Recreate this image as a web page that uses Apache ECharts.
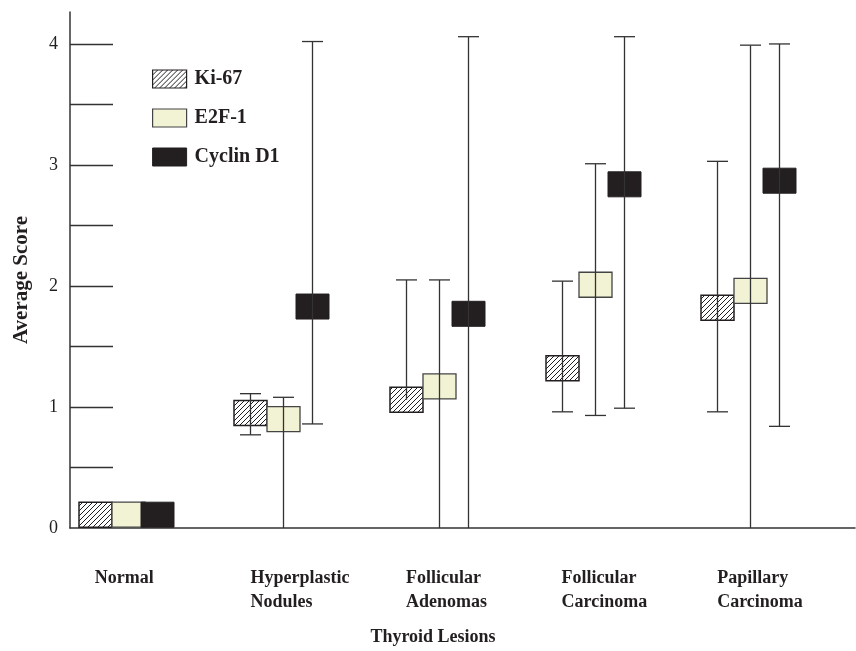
<!DOCTYPE html>
<html>
<head>
<meta charset="utf-8">
<script src="https://cdn.jsdelivr.net/npm/echarts@6/dist/echarts.min.js"></script>
<style>html,body{margin:0;padding:0;background:#fff}#c{width:856px;height:651px}</style>
</head>
<body>
<div id="c"></div>
<script>
const categories = ['Normal', 'Hyperplastic\nNodules', 'Follicular\nAdenomas', 'Follicular\nCarcinoma', 'Papillary\nCarcinoma'];
const yTickLabels = [0, 1, 2, 3, 4];
const yMinorTicks = [0.5, 1, 1.5, 2, 2.5, 3, 3.5, 4];

const ki67Mean = [0.11, 0.95, 1.06, 1.32, 1.82];
const ki67Low  = [null, 0.77, null, 0.96, 0.96];
const ki67High = [null, 1.11, 2.05, 2.04, 3.03];

const e2f1Mean = [0.11, 0.90, 1.17, 2.01, 1.96];
const e2f1Low  = [null, 0, 0, 0.93, 0];
const e2f1High = [null, 1.08, 2.05, 3.01, 3.99];

const cycMean = [0.11, 1.83, 1.77, 2.84, 2.87];
const cycLow  = [null, 0.86, 0, 0.99, 0.84];
const cycHigh = [null, 4.02, 4.06, 4.06, 4.00];

const INK = '#231f20';
const FONT = 'Liberation Serif';

// hatch pattern
const pc = document.createElement('canvas');
pc.width = 5; pc.height = 5;
const g = pc.getContext('2d');
g.fillStyle = '#fff'; g.fillRect(0, 0, 5, 5);
g.strokeStyle = INK; g.lineWidth = 1;
g.beginPath();
g.moveTo(-1, 6); g.lineTo(6, -1);
g.moveTo(-1, 1); g.lineTo(1, -1);
g.moveTo(4, 6); g.lineTo(6, 4);
g.stroke();
const hatch = { image: pc, repeat: 'repeat' };

const yMax = 4.264;

function build(mean, low, high) {
  return mean.map((m, i) => [i, m, low[i], high[i]]);
}

function makeRender(offset, fill, stroke, lw) {
  return function (params, api) {
    const cat = api.value(0);
    const m = api.value(1);
    const lo = api.value(2);
    const hi = api.value(3);
    const c = api.coord([cat, m]);
    const x = Math.round(c[0] + offset) + 0.5;
    const children = [];
    const bw = 33, bh = 25, cw = 21;
    children.push({
      type: 'rect',
      shape: { x: x - bw / 2, y: c[1] - bh / 2, width: bw, height: bh },
      style: { fill: fill, stroke: stroke, lineWidth: lw }
    });
    const lineStyle = { stroke: '#333', lineWidth: 1.3 };
    const hasHi = hi != null && !isNaN(hi);
    const hasLo = lo != null && !isNaN(lo);
    if (hasHi || hasLo) {
      const yTop = hasHi ? api.coord([cat, hi])[1] : c[1];
      const yBot = hasLo ? api.coord([cat, lo])[1] : c[1];
      children.push({ type: 'line', shape: { x1: x, y1: yTop, x2: x, y2: yBot }, style: lineStyle });
      if (hasHi) children.push({ type: 'line', shape: { x1: x - cw / 2, y1: yTop, x2: x + cw / 2, y2: yTop }, style: lineStyle });
      if (hasLo && lo > 0) children.push({ type: 'line', shape: { x1: x - cw / 2, y1: yBot, x2: x + cw / 2, y2: yBot }, style: lineStyle });
    }
    return { type: 'group', children: children };
  };
}

const chart = echarts.init(document.getElementById('c'), null, { renderer: 'canvas' });
chart.setOption({
  backgroundColor: '#fff',
  animation: false,
  grid: [
    { left: 70, right: 1, top: 12, bottom: 123, outerBoundsMode: 'none', containLabel: false },
    { left: 17, right: 61, top: 12, bottom: 123, outerBoundsMode: 'none', containLabel: false }
  ],
  xAxis: [
    { gridIndex: 0, type: 'value', min: 0, max: 1,
      axisLine: { show: true, lineStyle: { color: '#333', width: 1.5 } },
      axisTick: { show: false }, axisLabel: { show: false }, splitLine: { show: false } },
    { gridIndex: 1, type: 'category', data: categories, boundaryGap: true,
      axisLine: { show: false }, axisTick: { show: false }, splitLine: { show: false },
      axisLabel: { align: 'left', margin: 38, fontFamily: FONT, fontWeight: 'bold', fontSize: 18,
                   color: INK, lineHeight: 24, interval: 0 } }
  ],
  yAxis: [
    { gridIndex: 0, type: 'value', min: 0, max: yMax, interval: 0.5,
      axisLine: { show: true, lineStyle: { color: '#333', width: 1.5 } },
      axisTick: { show: true, inside: true, length: 43, customValues: yMinorTicks,
                  lineStyle: { color: '#333', width: 1.3 } },
      axisLabel: { customValues: yTickLabels, margin: 12, fontFamily: FONT, fontSize: 18, color: INK },
      splitLine: { show: false } },
    { gridIndex: 1, type: 'value', min: 0, max: yMax, show: false }
  ],
  legend: {
    orient: 'vertical', left: 152, top: 69, itemWidth: 34, itemHeight: 18, itemGap: 19,
    padding: 0, icon: 'rect',
    textStyle: { fontFamily: FONT, fontWeight: 'bold', fontSize: 20, color: INK, padding: [0, 0, 0, 3] },
    data: [
      { name: 'Ki-67', itemStyle: { color: hatch, borderColor: INK, borderWidth: 1.2 } },
      { name: 'E2F-1', itemStyle: { color: '#f2f2d4', borderColor: '#444', borderWidth: 1.2 } },
      { name: 'Cyclin D1', itemStyle: { color: INK, borderColor: INK, borderWidth: 1 } }
    ]
  },
  graphic: [
    { type: 'text', x: 433, y: 637,
      style: { text: 'Thyroid Lesions', textAlign: 'center', textVerticalAlign: 'middle',
               fontFamily: FONT, fontWeight: 'bold', fontSize: 18, fill: INK } },
    { type: 'text', x: 22, y: 280, rotation: Math.PI / 2,
      style: { text: 'Average Score', textAlign: 'center', textVerticalAlign: 'middle',
               fontFamily: FONT, fontWeight: 'bold', fontSize: 21, fill: INK } }
  ],
  series: [
    { name: 'Ki-67', type: 'custom', xAxisIndex: 1, yAxisIndex: 1,
      itemStyle: { color: hatch }, data: build(ki67Mean, ki67Low, ki67High),
      renderItem: makeRender(0, hatch, INK, 1.5), clip: false },
    { name: 'E2F-1', type: 'custom', xAxisIndex: 1, yAxisIndex: 1,
      itemStyle: { color: '#f2f2d4' }, data: build(e2f1Mean, e2f1Low, e2f1High),
      renderItem: makeRender(33, '#f2f2d4', '#444', 1.3), clip: false },
    { name: 'Cyclin D1', type: 'custom', xAxisIndex: 1, yAxisIndex: 1,
      itemStyle: { color: INK }, data: build(cycMean, cycLow, cycHigh),
      renderItem: makeRender(62, INK, INK, 1), clip: false }
  ]
});
</script>
</body>
</html>
